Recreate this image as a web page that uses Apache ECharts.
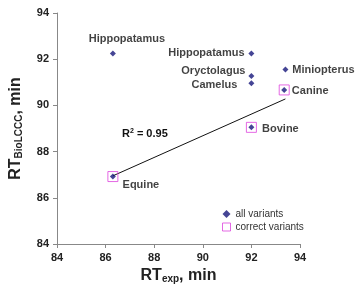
<!DOCTYPE html>
<html>
<head>
<meta charset="utf-8">
<script src="https://cdn.jsdelivr.net/npm/echarts@6/dist/echarts.min.js"></script>
<style>
  html, body { margin: 0; padding: 0; background: #fff; }
  #main { width: 358px; height: 289px; }
</style>
</head>
<body>
<div id="main"></div>
<script>
// species, measured RT vs BioLCCC predicted RT
const names = ['Hippopatamus', 'Hippopatamus', 'Oryctolagus', 'Camelus', 'Miniopterus', 'Canine', 'Bovine', 'Equine'];
const rtExp = [86.3, 92.0, 92.0, 92.0, 93.4, 93.35, 92.0, 86.3];
const rtBio = [92.25, 92.25, 91.27, 90.96, 91.55, 90.67, 89.05, 86.92];
// which of them are correct variants
const correctNames = ['Canine', 'Bovine', 'Equine'];
// fitted line ends
const trendX = [86.3, 93.4];
const trendY = [86.95, 90.28];
const xTicks = [84, 86, 88, 90, 92, 94];
const yTicks = [84, 86, 88, 90, 92, 94];

// label offset from the point (px)
const labelOffsets = [[14, -14], [-45, 0], [-38, -5], [-37, 2], [38, 0], [26, 1], [29, 2], [28, 8]];

const FONT = "'Liberation Sans', Arial, sans-serif";
const navy = '#16167a';
const pink = '#dd44dd';

const allData = names.map((n, i) => ({
    name: n,
    value: [rtExp[i], rtBio[i]],
    label: { offset: labelOffsets[i] }
}));
const correctData = names
    .map((n, i) => ({ name: n, value: [rtExp[i], rtBio[i]] }))
    .filter(d => correctNames.indexOf(d.name) >= 0);

const chart = echarts.init(document.getElementById('main'));
const axisCommon = {
    type: 'value',
    min: 84,
    max: 94,
    interval: 2,
    axisLine: { show: true, lineStyle: { color: '#888', width: 1 } },
    axisTick: { show: true, length: 4, lineStyle: { color: '#888' } },
    splitLine: { show: false },
    nameLocation: 'middle'
};
chart.setOption({
    animation: false,
    grid: { left: 55, top: 13, right: 58, bottom: 45 },
    xAxis: Object.assign({}, axisCommon, {
        axisLabel: { margin: 8, fontSize: 11, fontWeight: 'bold', color: '#222', fontFamily: FONT,
            formatter: v => xTicks.indexOf(v) >= 0 ? v : '' },
        name: '{a|RT}{b|exp}{a|, min}',
        nameGap: 24,
        nameTextStyle: {
            rich: {
                a: { fontSize: 16, fontWeight: 'bold', color: '#222', fontFamily: FONT },
                b: { fontSize: 10, fontWeight: 'bold', color: '#222', fontFamily: FONT, padding: [6, 0, 0, 0] }
            }
        }
    }),
    yAxis: Object.assign({}, axisCommon, {
        axisLabel: { margin: 8, fontSize: 11, fontWeight: 'bold', color: '#222', fontFamily: FONT,
            formatter: v => yTicks.indexOf(v) >= 0 ? v : '' },
        name: '{a|RT}{b|BioLCCC}{a|, min}',
        nameGap: 33,
        nameTextStyle: {
            rich: {
                a: { fontSize: 16, fontWeight: 'bold', color: '#222', fontFamily: FONT },
                b: { fontSize: 10, fontWeight: 'bold', color: '#222', fontFamily: FONT, padding: [6, 0, 0, 0] }
            }
        }
    }),
    legend: {
        orient: 'vertical',
        left: 217,
        top: 204,
        itemWidth: 8,
        itemHeight: 8,
        itemGap: 3,
        textStyle: { fontSize: 10, color: '#333', fontFamily: FONT },
        data: [
            { name: 'all variants', icon: 'diamond', itemStyle: { color: navy } },
            { name: 'correct variants', icon: 'rect', itemStyle: { color: '#fff', borderColor: pink, borderWidth: 1 } }
        ]
    },
    graphic: [{
        type: 'text',
        left: 122,
        top: 128,
        style: {
            text: 'R{s|2} = 0.95',
            font: 'bold 11px ' + FONT,
            fill: '#111',
            rich: { s: { fontSize: 7, fontWeight: 'bold', fill: '#111', verticalAlign: 'top', padding: [0, 0, 5, 0] } }
        }
    }],
    series: [
        {
            name: 'trend',
            type: 'line',
            data: trendX.map((x, i) => [x, trendY[i]]),
            symbol: 'none',
            lineStyle: { color: '#111', width: 1 },
            z: 1
        },
        {
            name: 'correct variants',
            type: 'scatter',
            symbol: 'rect',
            symbolSize: 10,
            data: correctData,
            itemStyle: { color: 'rgba(255,255,255,0)', borderColor: pink, borderWidth: 1 },
            z: 2
        },
        {
            name: 'all variants',
            type: 'scatter',
            symbol: 'diamond',
            symbolSize: 6,
            data: allData,
            itemStyle: { color: navy },
            label: {
                show: true,
                position: 'inside',
                formatter: '{b}',
                fontSize: 11,
                fontWeight: 'bold',
                color: '#111',
                fontFamily: FONT
            },
            z: 3
        }
    ]
});
</script>
</body>
</html>
